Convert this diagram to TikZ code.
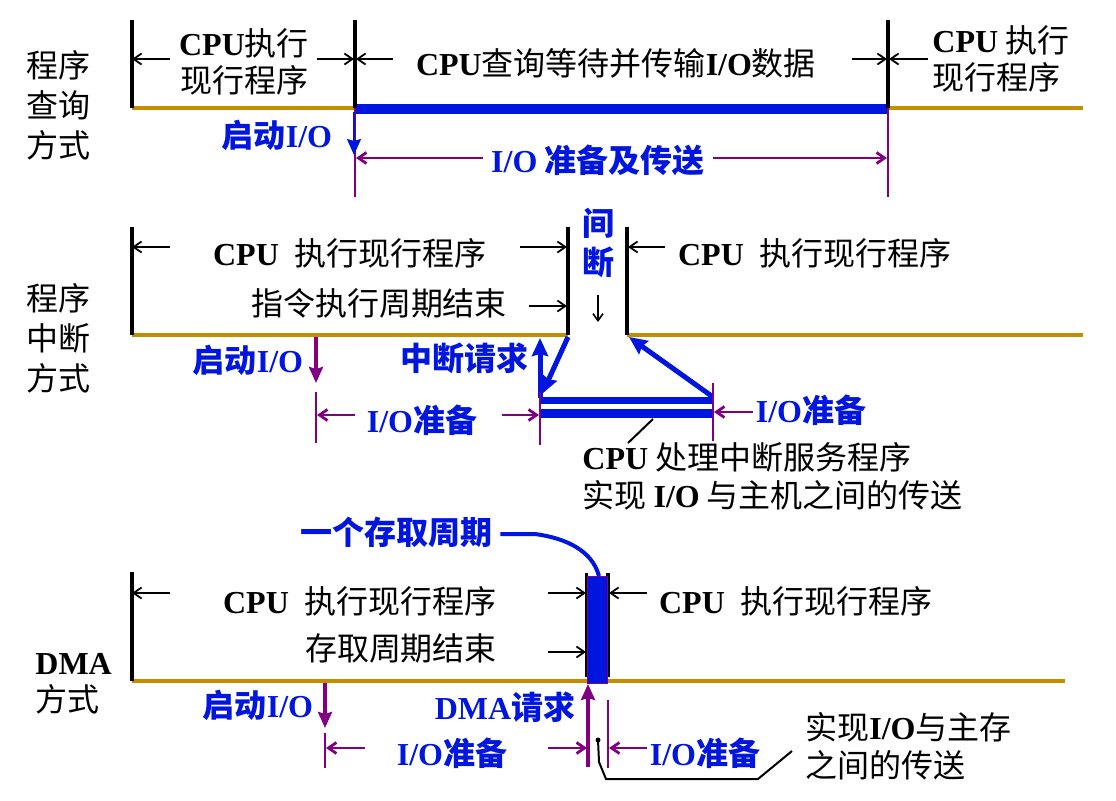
\documentclass[tikz,border=0pt]{standalone}
\usepackage{fontspec}
\setmainfont{Liberation Serif}
\newfontfamily\cjk{Noto Sans CJK SC}
\usepackage{tikz}
\usetikzlibrary{arrows.meta,positioning}
\definecolor{rungold}{RGB}{196,142,0}
\definecolor{ioblue}{RGB}{0,22,222}
\definecolor{iopurple}{RGB}{128,0,128}
\newcommand{\en}[1]{{\rmfamily\bfseries #1}}

\begin{document}
\begin{tikzpicture}[x=0.5pt,y=-0.5pt,
    txt/.style={font=\fontsize{16}{18.5}\selectfont\cjk,inner sep=0pt,align=center},
    side/.style={txt,font=\fontsize{16}{20}\selectfont\cjk},
    lab/.style={txt,text=ioblue,font=\fontsize{16}{19.5}\selectfont\cjk\bfseries},
    tick/.style={line width=1.6pt,black},
    run/.style={line width=2.4pt,rungold},
    busy/.style={line width=5pt,ioblue},
    darr/.style={line width=0.9pt,-{Straight Barb[length=4pt,width=5.5pt]}},
    dim/.style={line width=1.4pt,iopurple},
    parr/.style={dim,-{Straight Barb[length=4pt,width=5.5pt]}},
    pstart/.style={line width=1.6pt,iopurple,-{Stealth[length=8pt,width=7pt,inset=1pt]}},
    barr/.style={line width=2.5pt,ioblue,-{Stealth[length=9pt,width=8pt,inset=1pt]}}
  ]
  \useasboundingbox (0,0) rectangle (1116,800);

  % ---------- program query ----------
  \node[side] (lq) at (58,105) {程序\\查询\\方式};
  \coordinate (q0) at (132,108);
  \coordinate (q1) at (355,108);
  \coordinate (q2) at (888,108);
  \coordinate (q3) at (1083,108);
  \draw[run] (q0) -- (q1);
  \draw[run] (q2) -- (q3);
  \draw[busy] ([yshift=-0.5pt]q1) -- ([yshift=-0.5pt]q2);
  \draw[tick] (q0) -- ++(0,-88);
  \draw[tick] (q1) -- ++(0,-88);
  \draw[tick] (q2) -- ++(0,-88);
  \draw[dim] (q1) -- ++(0,89);
  \draw[dim] (q2) -- ++(0,89);

  \node[txt] (qcpu1) at (244,62) {\en{CPU}执行\\现行程序};
  \node[txt] (qwait) at (616,63) {\en{CPU}查询等待并传输\en{I/O}数据};
  \node[txt,align=left,anchor=west] (qcpu2) at (932,59) {\en{CPU} 执行\\现行程序};
  \draw[darr] (170,59) -- (132,59);
  \draw[darr] (317,59) -- (354,59);
  \draw[darr] (393,59) -- (356,59);
  \draw[darr] (852,59) -- (887,59);
  \draw[darr] (928,59) -- (889,59);

  \node[lab] (qstart) at (277,135) {启动\en{I/O}};
  \draw[line width=1pt,ioblue,-{Stealth[length=8pt,width=7pt,inset=1pt]}] (354,112) -- (354,155);
  \node[lab] (qprep) at (598,160) {\en{I/O} 准备及传送};
  \draw[parr] (qprep.west) ++(-8,-2) -- (356,158);
  \draw[parr] (qprep.east) ++(8,-2) -- (887,158);

  % ---------- program interrupt ----------
  \node[side] (lz) at (58,338) {程序\\中断\\方式};
  \coordinate (z0) at (132,335);
  \coordinate (z1) at (568,335);
  \coordinate (z2) at (627,335);
  \coordinate (z3) at (1083,335);
  \draw[run] (z0) -- (z1);
  \draw[run] (z2) -- (z3);
  \draw[tick] (z0) -- ++(0,-108);
  \draw[tick] (z1) -- ++(0,-108);
  \draw[tick] (z2) -- ++(0,-108);

  \node[txt] (zcpu1) at (350,253) {\en{CPU}\hspace{8pt}执行现行程序};
  \node[txt] (zend) at (379,303) {指令执行周期结束};
  \node[txt] (zcpu2) at (815,253) {\en{CPU}\hspace{8pt}执行现行程序};
  \draw[darr] (170,247) -- (132,247);
  \draw[darr] (520,247) -- (567,247);
  \draw[darr] (529,306) -- (567,306);
  \draw[darr] (665,247) -- (628,247);
  \node[lab] (zgap) at (598,243) {间\\断};
  \draw[line width=0.8pt,-{Straight Barb[length=3.5pt,width=5pt]}] (598,295) -- (598,322);

  \node[lab] (zstart) at (248,360) {启动\en{I/O}};
  \draw[pstart] (316,337) -- (316,383);
  \node[lab] (zreq) at (464,358) {中断请求};

  \coordinate (zs0) at (540,400.5);
  \coordinate (zs1) at (713,400.5);
  \draw[line width=3.5pt,ioblue] (zs0) -- (zs1);
  \draw[line width=4.5pt,ioblue] (540,413.5) -- (713,413.5);
  \draw[barr] (540,398) -- (540,338);
  \draw[barr] (568,337) -- (542,394);
  \draw[barr] (713,397) -- (629,337);

  \draw[dim] (316,392) -- (316,443);
  \draw[dim] (540,392) -- (540,445);
  \draw[dim] (713,383) -- (713,441);
  \node[lab] (zprep1) at (422,420) {\en{I/O}准备};
  \draw[parr] (355,415) -- (317,415);
  \draw[parr] (502,415) -- (539,415);
  \node[lab] (zprep2) at (811,410) {\en{I/O}准备};
  \draw[parr] (753,412) -- (714,412);

  \node[txt,align=left,anchor=west,font=\fontsize{16}{19}\selectfont\cjk] (zisr) at (582,476)
    {\en{CPU} 处理中断服务程序\\实现 \en{I/O} 与主机之间的传送};
  \draw[line width=1pt] (653,419) -- (628,443);

  % ---------- DMA ----------
  \node[side,align=left,anchor=west,font=\fontsize{16}{18.5}\selectfont\cjk] (ld) at (35,684) {\en{DMA}\\方式};
  \coordinate (d0) at (132,681);
  \coordinate (d1) at (1065,681);
  \draw[run] (d0) -- (d1);
  \draw[tick] (d0) -- ++(0,-109);
  \draw[tick] (586.5,573) -- (586.5,677);
  \draw[tick] (608,573) -- (608,677);
  \draw[fill=ioblue,draw=iopurple,line width=0.5pt] (587,576) rectangle (607,683);

  \node[txt] (dcpu1) at (360,601) {\en{CPU}\hspace{8pt}执行现行程序};
  \node[txt] (dend) at (401,648) {存取周期结束};
  \node[txt] (dcpu2) at (796,601) {\en{CPU}\hspace{8pt}执行现行程序};
  \draw[darr] (170,593) -- (132,593);
  \draw[darr] (548,593) -- (586,593);
  \draw[darr] (548,652) -- (586,652);
  \draw[darr] (647,593) -- (609,593);

  \node[lab] (dcycle) at (396,532) {一个存取周期};
  \draw[line width=2pt,ioblue] (dcycle.east) ++(8,2) -- (535,534)
    .. controls (565,538) and (592,550) .. (599,576);

  \node[lab] (dstart) at (258,705) {启动\en{I/O}};
  \draw[pstart] (325,683) -- (325,728);
  \node[lab] (dreq) at (505,707) {\en{DMA}请求};
  \draw[pstart] (588,767) -- (588,684);

  \draw[dim] (325,733) -- (325,768);
  \draw[dim] (608,700) -- (608,768);
  \node[lab] (dprep1) at (452,753) {\en{I/O}准备};
  \draw[parr] (365,748) -- (326,748);
  \draw[parr] (548,748) -- (587,748);
  \node[lab] (dprep2) at (705,753) {\en{I/O}准备};
  \draw[parr] (647,748) -- (609,748);

  \node[txt,align=left,anchor=west,font=\fontsize{16}{19}\selectfont\cjk] (dxfer) at (805,746)
    {实现\en{I/O}与主存\\之间的传送};
  \fill (598,740) circle (2.5);
  \draw[line width=1pt] (598,740) -- (599,762) -- (606,779) -- (758,779) -- (792,751);
\end{tikzpicture}
\end{document}
